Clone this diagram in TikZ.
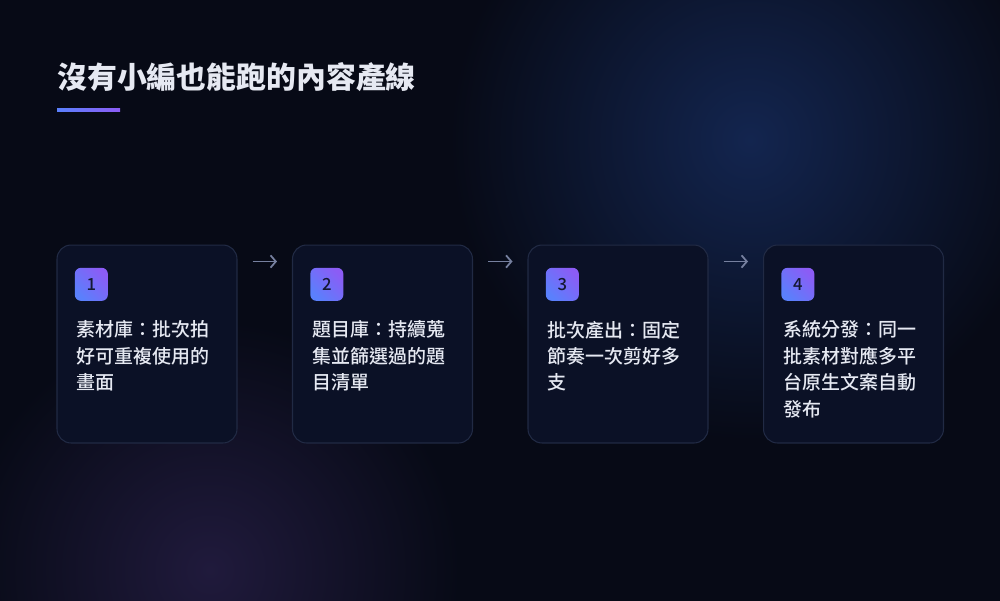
\documentclass[tikz,border=0pt]{standalone}
\usepackage{fontspec}
\setmainfont{Noto Sans CJK TC}
\newfontfamily\medfont{Noto Sans CJK TC Medium}
\usetikzlibrary{positioning, arrows.meta}
\definecolor{bgdark}{HTML}{070A16}
\definecolor{glowblue}{HTML}{13254F}
\definecolor{glowpurple}{HTML}{201A3C}
\definecolor{cardfill}{HTML}{0B1126}
\definecolor{cardline}{HTML}{212A44}
\definecolor{stepblue}{HTML}{5A80FC}
\definecolor{steppurple}{HTML}{8C5CF5}
\definecolor{steptext}{HTML}{E6E9F2}
\definecolor{numtext}{HTML}{141832}
\definecolor{arrowgray}{HTML}{76809F}
\tikzset{
	card/.style={draw=cardline, line width=0.6pt, fill=cardfill, rounded corners=0.28cm, minimum width=3.6cm, minimum height=3.96cm},
	badge/.style={rounded corners=0.12cm, minimum size=0.66cm, inner sep=0pt, left color=stepblue, right color=steppurple, shading angle=135, font=\medfont\fontsize{9.5pt}{10pt}\selectfont, text=numtext},
	steptxt/.style={anchor=north west, inner sep=0pt, align=left, text=steptext, font=\medfont\fontsize{10.8pt}{15pt}\selectfont},
	flow/.style={draw=arrowgray, line width=1pt, -{Straight Barb[length=3pt, width=7pt]}}
}
\begin{document}
\begin{tikzpicture}[x=0.02cm, y=-0.02cm]
	\useasboundingbox (0,0) rectangle (1000,600);
	\fill[bgdark] (-5,-5) rectangle (1005,605);
	\begin{scope}
		\clip (-5,-5) rectangle (1005,605);
		\shade[inner color=glowblue, outer color=bgdark] (750,140) circle[radius=300];
		\shade[inner color=glowpurple, outer color=bgdark] (210,570) circle[radius=250];
	\end{scope}
	% title
	\node[anchor=west, inner sep=0pt, text=steptext, font=\fontsize{17pt}{20pt}\selectfont\bfseries] (title) at (57,77) {沒有小編也能跑的內容產線};
	\shade[left color=stepblue, right color=steppurple] (57,108) rectangle (120,111);
	% steps
	\foreach \i/\x/\txt in {1/147/{素材庫：批次拍\\好可重複使用的\\畫面},
			2/382.5/{題目庫：持續蒐\\集並篩選過的題\\目清單},
			3/618/{批次產出：固定\\節奏一次剪好多\\支},
			4/853.5/{系統分發：同一\\批素材對應多平\\台原生文案自動\\發布}}{
		\node[card] (c\i) at (\x,344) {};
		\node[badge, below right=0.46cm and 0.36cm of c\i.north west] (b\i) {\i};
		\node[steptxt] (t\i) at ([xshift=0.4cm, yshift=-1.52cm]c\i.north west) {\txt};
	}
	\foreach \a/\b in {1/2, 2/3, 3/4}
		\draw[flow] ([xshift=0.3cm, yshift=-0.34cm]c\a.north east) -- ([xshift=-0.3cm, yshift=-0.34cm]c\b.north west);
\end{tikzpicture}
\end{document}
